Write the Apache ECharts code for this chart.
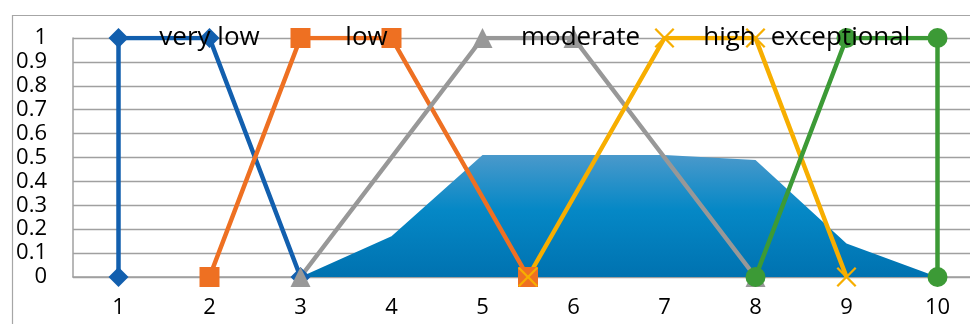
<!DOCTYPE html>
<html>
<head>
<meta charset="utf-8">
<script src="https://cdn.jsdelivr.net/npm/echarts@6/dist/echarts.min.js"></script>
<style>
  html, body { margin: 0; padding: 0; background: #fff; }
  #chart { width: 970px; height: 324px; }
</style>
</head>
<body>
<div id="chart"></div>
<script>
// membership functions (x = score, y = degree)
let veryLowX = [1, 1, 2, 3];
let veryLowY = [0, 1, 1, 0];
let lowX = [2, 3, 4, 5.5];
let lowY = [0, 1, 1, 0];
let moderateX = [3, 5, 6, 8];
let moderateY = [0, 1, 1, 0];
let highX = [5.5, 7, 8, 9];
let highY = [0, 1, 1, 0];
let exceptionalX = [8, 9, 10, 10];
let exceptionalY = [0, 1, 1, 0];
// aggregated output area
let areaX = [3, 4, 5, 6, 7, 8, 9, 10];
let areaY = [0, 0.17, 0.51, 0.51, 0.51, 0.49, 0.14, 0];
let xTickLabels = [1, 2, 3, 4, 5, 6, 7, 8, 9, 10];

function zip(xs, ys) {
  let out = [];
  xs.forEach((x, i) => out.push([x, ys[i]]));
  return out;
}

const FONT = "Open Sans";
const crossPath = "path://M0,0.8L0.8,0L5,4.2L9.2,0L10,0.8L5.8,5L10,9.2L9.2,10L5,5.8L0.8,10L0,9.2L4.2,5Z";

// one line series; labelIdx = point that carries the series name
function fuzzyLine(name, xs, ys, color, symbol, labelIdx, offsetX) {
  let data = zip(xs, ys).map((p, i) => {
    if (i !== labelIdx) return p;
    return {
      value: p,
      label: {
        show: true,
        position: "inside",
        offset: [offsetX, 0],
        formatter: name,
        color: "#000",
        fontFamily: FONT,
        fontSize: 26,
      },
    };
  });
  return {
    name: name,
    type: "line",
    data: data,
    symbol: symbol,
    symbolSize: 20,
    showAllSymbol: true,
    lineStyle: { color: color, width: 4.5 },
    itemStyle: { color: color },
    label: { show: false },
    emphasis: { disabled: true },
    animation: false,
    z: 3,
  };
}

let myChart = echarts.init(document.getElementById("chart"));

myChart.setOption({
  animation: false,
  grid: {
    left: 73,
    top: 38,
    bottom: 47,
    right: -13,
    containLabel: false,
    outerBoundsMode: "none",
  },
  graphic: [
    {
      type: "rect",
      left: 10,
      top: 13,
      shape: { width: 1000, height: 400 },
      style: { fill: "none", stroke: "#a6a6a6", lineWidth: 1.2 },
      silent: true,
      z: -10,
    },
  ],
  xAxis: {
    type: "value",
    min: 0.5,
    max: 10.5,
    interval: 0.5,
    axisLine: { show: true, lineStyle: { color: "#a0a0a0", width: 1.5 } },
    axisTick: { show: false },
    splitLine: { show: false },
    axisLabel: {
      margin: 20,
      color: "#000",
      fontFamily: FONT,
      fontSize: 22,
      formatter: function (v) {
        return xTickLabels.indexOf(v) >= 0 ? String(v) : "";
      },
    },
  },
  yAxis: {
    type: "value",
    min: 0,
    max: 1,
    interval: 0.1,
    axisLine: { show: true, lineStyle: { color: "#a0a0a0", width: 1.5 } },
    axisTick: { show: false },
    splitLine: { show: true, lineStyle: { color: "#a0a0a0", width: 1.3 } },
    axisLabel: {
      margin: 26,
      color: "#000",
      fontFamily: FONT,
      fontSize: 22,
    },
  },
  series: [
    {
      name: "output",
      type: "line",
      data: zip(areaX, areaY),
      showSymbol: false,
      lineStyle: { width: 0 },
      areaStyle: {
        opacity: 1,
        color: new echarts.graphic.LinearGradient(0, 0, 0, 1, [
          { offset: 0, color: "#4a99cb" },
          { offset: 0.45, color: "#0588c6" },
          { offset: 1, color: "#0072b0" },
        ]),
      },
      emphasis: { disabled: true },
      z: 2,
    },
    fuzzyLine("very low", veryLowX, veryLowY, "#125fae", "diamond", 2, 0),
    fuzzyLine("low", lowX, lowY, "#ee7022", "rect", 2, -25),
    fuzzyLine("moderate", moderateX, moderateY, "#989898", "triangle", 2, 7),
    fuzzyLine("high", highX, highY, "#f7ae00", crossPath, 2, -26),
    fuzzyLine("exceptional", exceptionalX, exceptionalY, "#3c9a36", "circle", 1, -6),
  ],
});

window.addEventListener("resize", function () {
  myChart.resize();
});
</script>
</body>
</html>
